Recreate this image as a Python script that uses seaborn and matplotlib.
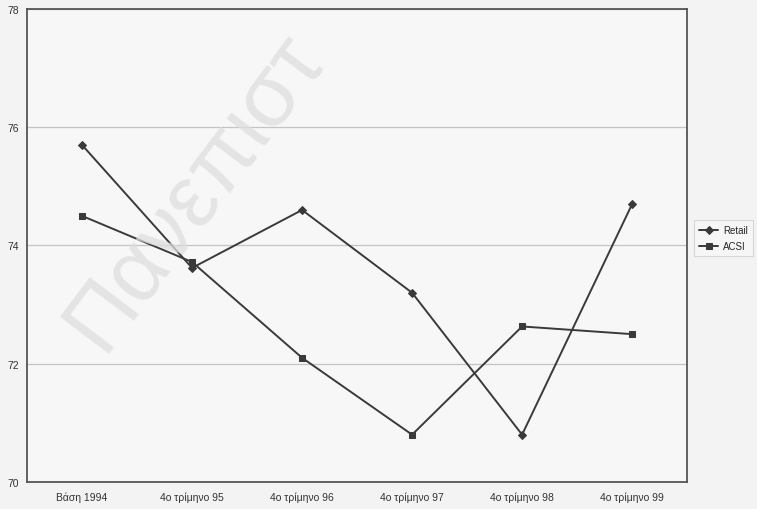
import matplotlib
matplotlib.use("Agg")
import matplotlib.pyplot as plt
import seaborn as sns
import pandas as pd

# Quarterly satisfaction index values
quarters = ["Βάση 1994", "4ο τρίμηνο 95", "4ο τρίμηνο 96",
            "4ο τρίμηνο 97", "4ο τρίμηνο 98", "4ο τρίμηνο 99"]
retail = [75.7, 73.62, 74.6, 73.2, 70.8, 74.7]
acsi = [74.5, 73.72, 72.1, 70.8, 72.63, 72.5]
y_ticks = [70, 72, 74, 76, 78]

df = pd.DataFrame({
    "quarter": quarters * 2,
    "value": retail + acsi,
    "series": ["Retail"] * len(quarters) + ["ACSI"] * len(quarters),
})

sns.set_theme(style="white")
plt.rcParams["font.family"] = ["Liberation Sans", "DejaVu Sans"]

fig = plt.figure(figsize=(7.57, 5.10), dpi=100, facecolor="#f3f3f3")
ax = fig.add_axes([0.0357, 0.053, 0.872, 0.9275])
ax.set_facecolor("#f7f7f7")

ink = "#3a3a3a"
sns.lineplot(data=df, x="quarter", y="value", hue="series", style="series",
             markers={"Retail": "D", "ACSI": "s"}, dashes=False,
             palette={"Retail": ink, "ACSI": ink}, markersize=4.5,
             markeredgecolor=ink, linewidth=1.4, ax=ax, zorder=3)

ax.set_xlim(-0.5, len(quarters) - 0.5)
ax.set_ylim(70, 78)
ax.set_yticks(y_ticks)
ax.yaxis.grid(True, color="#c4c4c4", linewidth=0.9)
ax.xaxis.grid(False)
ax.set_xlabel("")
ax.set_ylabel("")
ax.tick_params(axis="both", length=0, labelsize=7.5, colors="#333333")
ax.tick_params(axis="x", pad=7)
ax.tick_params(axis="y", pad=6)
for s in ax.spines.values():
    s.set_color("#555555")
    s.set_linewidth(1.3)

leg = ax.legend(loc="upper left", bbox_to_anchor=(0.917, 0.566),
                bbox_transform=fig.transFigure, fontsize=7, frameon=True,
                fancybox=False, handlelength=2.0, handletextpad=0.5,
                borderpad=0.5, labelspacing=0.6, borderaxespad=0)
leg.get_frame().set_edgecolor("#d0d0d0")
leg.get_frame().set_facecolor("#f7f7f7")
leg.get_frame().set_linewidth(0.8)

# faint diagonal watermark
fig.text(0.11, 0.335, "Πανεπιστ", rotation=53, fontsize=64,
         color="#dedede", alpha=0.75, ha="left", va="center",
         rotation_mode="anchor", zorder=0.5)

fig.savefig("out.png", dpi=100, facecolor=fig.get_facecolor())
